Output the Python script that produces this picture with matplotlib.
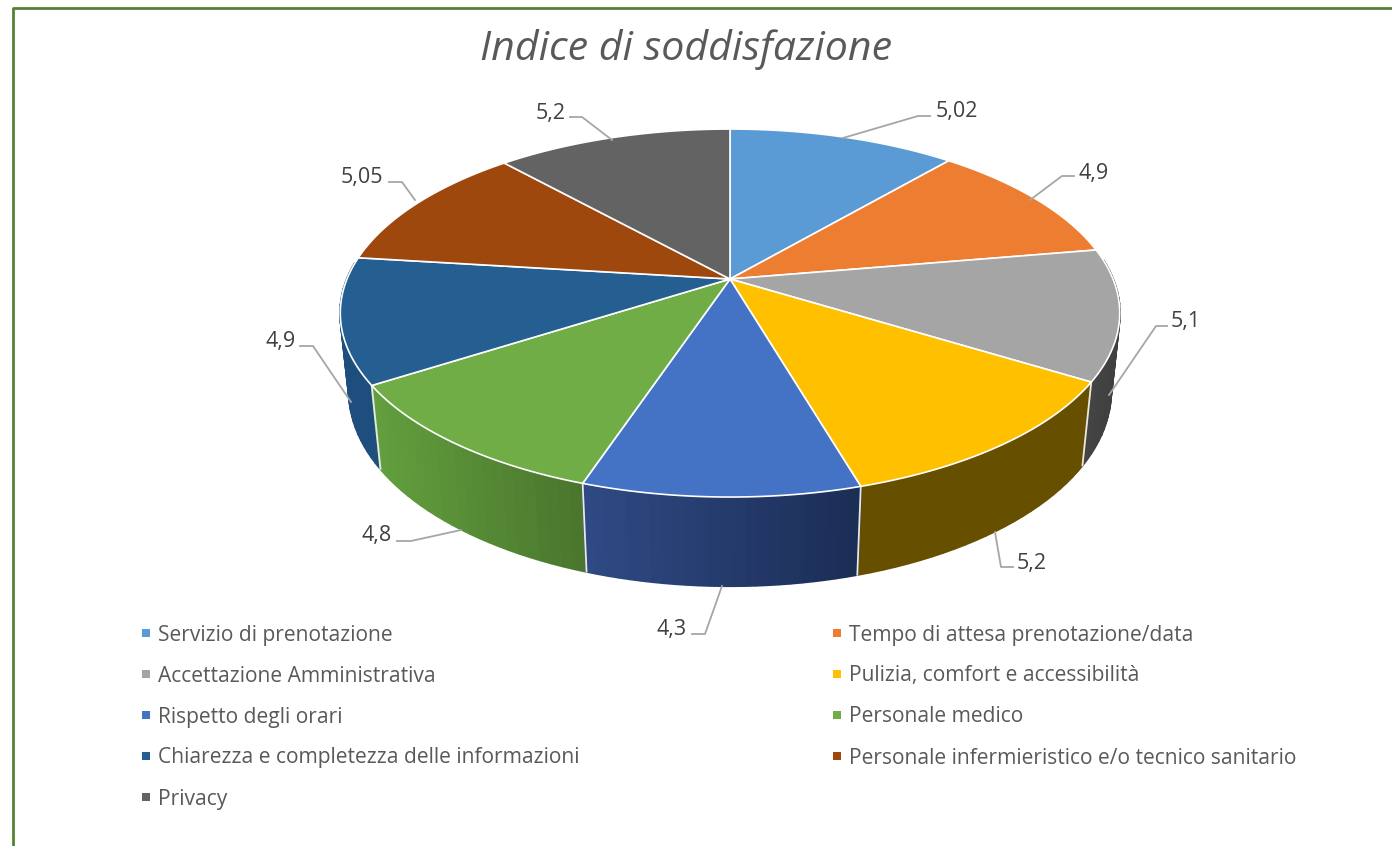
import numpy as np
import matplotlib
matplotlib.use("Agg")
import matplotlib.pyplot as plt
from matplotlib.colors import to_rgb
from matplotlib.patches import Polygon, Rectangle

title = "Indice di soddisfazione"
categories = ["Servizio di prenotazione", "Tempo di attesa prenotazione/data",
              "Accettazione Amministrativa", "Pulizia, comfort e accessibilità",
              "Rispetto degli orari", "Personale medico",
              "Chiarezza e completezza delle informazioni",
              "Personale infermieristico e/o tecnico sanitario", "Privacy"]
values = [5.02, 4.9, 5.1, 5.2, 4.3, 4.8, 4.9, 5.05, 5.2]
value_labels = ["5,02", "4,9", "5,1", "5,2", "4,3", "4,8", "4,9", "5,05", "5,2"]
top_colors = ["#5B9BD5", "#ED7D31", "#A5A5A5", "#FFC000", "#4472C4",
              "#70AD47", "#255E91", "#9E480E", "#636363"]
side_left = ["#37618A", "#8E4B1D", "#444444", "#665000", "#2F4A85",
             "#62A03E", "#1D4E7E", "#5F2B08", "#3B3B3B"]
side_right = ["#37618A", "#8E4B1D", "#3F3F3F", "#665000", "#1B2D55",
              "#4A752D", "#1D4E7E", "#5F2B08", "#3B3B3B"]
label_xy = [(957, 112), (1094, 173), (1186, 322), (1032, 563), (672, 630),
            (377, 535), (281, 341), (362, 177), (551, 113)]
leaders = [[(843, 138), (918, 116), (930, 116)],
           [(1030, 200), (1062, 176), (1074, 176)],
           [(1109, 395), (1156, 326), (1167, 326)],
           [(995, 532), (1001, 567), (1013, 567)],
           [(722, 586), (705, 634), (692, 634)],
           [(461, 530), (411, 541), (397, 541)],
           [(351, 402), (313, 346), (300, 346)],
           [(415, 200), (402, 182), (389, 182)],
           [(612, 140), (582, 117), (570, 117)]]
legend_xy = [(146, 633), (837, 633), (146, 674), (837, 674), (146, 715),
             (837, 715), (146, 756), (837, 756), (146, 797)]

# Projection of the tilted disc to picture coordinates
CX, CY, AX_, BY, K, M, DROP = 730, 279, 383, 177.7, 0.185, 0.0225, 79.4


def project(theta, depth=0.0):
    X, Y = np.sin(theta), np.cos(theta)
    w = 1 + K * Y + M * depth
    return CX + AX_ * X / w, CY + (-BY * Y + DROP * depth) / w


fig = plt.figure(figsize=(13.92, 8.46), dpi=100)
ax = fig.add_axes([0, 0, 1, 1])
ax.set_xlim(0, 1392)
ax.set_ylim(846, 0)
ax.axis("off")

ax.plot([12.5, 12.5, 1392], [846, 8, 8], color="#548235", lw=2, solid_capstyle="butt", zorder=1)

fracs = np.array(values) / np.sum(values)
edges = np.concatenate([[0], np.cumsum(fracs)]) * 2 * np.pi

# sides, far to near
strips = []
for i in range(len(values)):
    ths = np.linspace(edges[i], edges[i + 1], 25)
    c0, c1 = np.array(to_rgb(side_left[i])), np.array(to_rgb(side_right[i]))
    x_all = project(ths)[0]
    xl, xr = x_all.min(), x_all.max()
    for a, b in zip(ths[:-1], ths[1:]):
        m = (a + b) / 2
        if np.cos(m) > 0.1:
            continue
        xa, ya = project(a); xb, yb = project(b)
        xc, yc = project(b, 1); xd, yd = project(a, 1)
        t = float(np.clip(((xa + xb) / 2 - xl) / max(1, xr - xl), 0, 1))
        col = np.clip(c0 * (1 - t) + c1 * t, 0, 1)
        strips.append((-np.cos(m), [(xa, ya), (xb, yb), (xc, yc), (xd, yd)], tuple(col)))
for _, pts, col in sorted(strips, key=lambda s: s[0]):
    ax.add_patch(Polygon(pts, closed=True, fc=col, ec=col, lw=1.6, joinstyle="bevel", zorder=2))

# pale seams on the visible wedge boundaries
for e in edges[:-1]:
    if np.cos(e) < -0.1:
        xa, ya = project(e); xb, yb = project(e, 1)
        ax.plot([xa, xb], [ya, yb], color="#E8E8E8", lw=1.3, zorder=3)

# top faces
for i in range(len(values)):
    ths = np.linspace(edges[i], edges[i + 1], 80)
    xs, ys = project(ths)
    pts = [(CX, CY)] + list(zip(xs, ys))
    ax.add_patch(Polygon(pts, closed=True, fc=top_colors[i], ec="white", lw=1.2,
                         joinstyle="round", zorder=4))

# leaders and data labels
for pts, (lx, ly), txt in zip(leaders, label_xy, value_labels):
    xs, ys = zip(*pts)
    ax.plot(xs, ys, color="#A6A6A6", lw=1.3, zorder=5)
    ax.text(lx, ly, txt, ha="center", va="center", fontsize=15.5,
            family="Open Sans", color="#404040", zorder=6)

# legend
for (lx, ly), name, col in zip(legend_xy, categories, top_colors):
    ax.add_patch(Rectangle((lx - 4, ly - 4), 8, 8, fc=col, ec="none", zorder=5))
    ax.text(lx + 12, ly + 2, name, ha="left", va="center", fontsize=15.15,
            family="Open Sans", color="#595959", zorder=6)

ax.text(686.5, 50, title, ha="center", va="center", fontsize=29.6, style="italic",
        family="Open Sans", color="#595959", zorder=6)

fig.savefig("out.png", dpi=100, facecolor="white")
